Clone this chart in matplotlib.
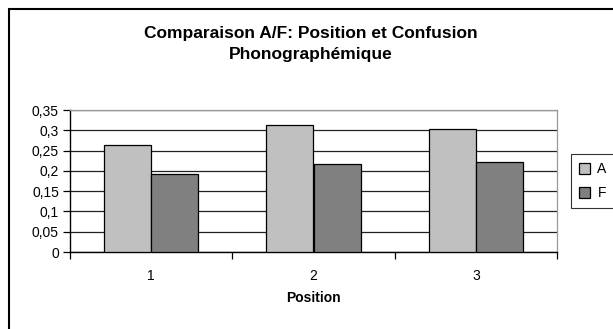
import matplotlib

matplotlib.use("Agg")
import matplotlib.pyplot as plt
import numpy as np
from matplotlib.patches import Rectangle

positions = ["1", "2", "3"]
series_names = ["A", "F"]
values_a = [0.263, 0.314, 0.304]
values_f = [0.192, 0.216, 0.222]
y_ticks = [0, 0.05, 0.1, 0.15, 0.2, 0.25, 0.3, 0.35]
y_tick_labels = ["0", "0,05", "0,1", "0,15", "0,2", "0,25", "0,3", "0,35"]

plt.rcParams["font.family"] = ["Liberation Sans", "DejaVu Sans"]

W, H = 613, 329
fig = plt.figure(figsize=(W / 100, H / 100), dpi=100)

# outer chart border (cut off at right and bottom like the original)
fig.patches.append(Rectangle((9 / W, -0.05), 1.1, (H - 8.5) / H + 0.05, transform=fig.transFigure,
                             fill=False, edgecolor="black", linewidth=1.5))

ax = fig.add_axes([70 / W, (H - 252) / H, (557 - 70) / W, (252 - 110) / H])
x = np.arange(len(positions))
width = 0.29
ax.bar(x - width / 2, values_a, width=width, color="#C0C0C0", edgecolor="black", linewidth=0.9,
       label=series_names[0], zorder=3)
ax.bar(x + width / 2, values_f, width=width, color="#808080", edgecolor="black", linewidth=0.9,
       label=series_names[1], zorder=3)

ax.set_xlim(-0.5, len(positions) - 0.5)
ax.set_ylim(0, 0.35)
ax.set_yticks(y_ticks)
ax.set_yticklabels(y_tick_labels, fontsize=10)
ax.set_xticks(x)
ax.set_xticklabels(positions, fontsize=10)
ax.tick_params(axis="x", length=0, pad=12)
ax.set_xticks(np.arange(len(positions) + 1) - 0.5, minor=True)
ax.tick_params(axis="x", which="minor", length=5, width=0.9, color="black")
ax.tick_params(axis="y", length=5, width=0.9, color="black", pad=3)
ax.grid(axis="y", color="#222222", linewidth=0.9, zorder=0)

for side in ["top", "right"]:
    ax.spines[side].set_color("#999999")
    ax.spines[side].set_linewidth(0.9)
for side in ["left", "bottom"]:
    ax.spines[side].set_color("black")
    ax.spines[side].set_linewidth(1.0)

ax.set_xlabel("Position", fontsize=10, fontweight="bold", labelpad=6)
fig.text(311 / W, 1 - 44 / H, "Comparaison A/F: Position et Confusion\nPhonographémique",
         ha="center", va="center", fontsize=12.5, fontweight="bold", linespacing=1.55)

leg = fig.legend(loc="upper left", bbox_to_anchor=(571 / W, 1 - 154 / H), fontsize=10,
                 frameon=True, fancybox=False, edgecolor="black", handlelength=0.8,
                 handleheight=0.8, handletextpad=0.5, borderpad=0.6, labelspacing=0.7,
                 borderaxespad=0)
leg.get_frame().set_linewidth(0.8)

fig.savefig("out.png", dpi=100)
